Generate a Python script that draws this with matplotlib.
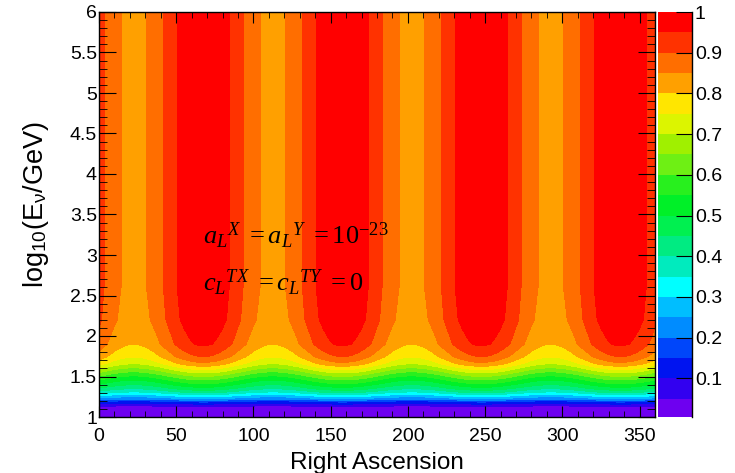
import numpy as np
import matplotlib
matplotlib.use("Agg")
import matplotlib.pyplot as plt
from matplotlib.ticker import MultipleLocator, FuncFormatter

# energy profile (value at the RA where the pattern peaks)
LOG_E = [1.00, 1.10, 1.14, 1.17, 1.20, 1.22, 1.25, 1.28, 1.31, 1.35, 1.40,
         1.457, 1.51, 1.56, 1.61, 1.66, 1.745, 1.898, 2.2, 2.6, 6.0]
PROFILE = [0.01, 0.035, 0.06, 0.12, 0.18, 0.24, 0.30, 0.36, 0.42, 0.48, 0.54,
           0.60, 0.66, 0.72, 0.78, 0.84, 0.90, 0.956, 0.99, 1.0, 1.0]
# sidereal modulation: depth, RA of maximum, period (deg)
MOD_DEPTH = 0.163
RA_PEAK = 67.5
RA_PERIOD = 90.0

LEVELS = [round(0.05 * k, 2) for k in range(21)]
COLORS = ["#6e00f0", "#3200f0", "#0014f0", "#0046fa", "#008cff", "#00beff",
          "#00ffff", "#00ebbe", "#00eb82", "#00f050", "#00f028", "#28f01e",
          "#6ef014", "#a0f000", "#dcf500", "#ffe600", "#ffa000", "#ff6e00",
          "#ff3200", "#ff0000"]
XTICKS = [0, 50, 100, 150, 200, 250, 300, 350]
CB_TICKS = [0.1, 0.2, 0.3, 0.4, 0.5, 0.6, 0.7, 0.8, 0.9, 1.0]

plt.rcParams["font.family"] = ["Liberation Sans", "DejaVu Sans"]
plt.rcParams["mathtext.fontset"] = "custom"
plt.rcParams["mathtext.rm"] = "Liberation Serif"
plt.rcParams["mathtext.it"] = "Liberation Serif:italic"
plt.rcParams["mathtext.sf"] = "Liberation Sans"

W, H = 735, 473
fig = plt.figure(figsize=(W / 100, H / 100), dpi=100, facecolor="white")
ax = fig.add_axes([99 / W, 1 - 417 / H, 556 / W, 405 / H])
cax = fig.add_axes([658 / W, 1 - 417 / H, 34 / W, 405 / H])

ra = np.linspace(0, 360, 721)
le = np.linspace(1, 6, 601)
RA, LE = np.meshgrid(ra, le)
prof = np.interp(le, LOG_E, PROFILE)[:, None]
phase = np.deg2rad(180.0 * (RA - RA_PEAK) / RA_PERIOD)
Z = np.clip(prof * (1 - MOD_DEPTH * np.sin(phase) ** 2), 0, 1)

ax.contourf(RA, LE, Z, levels=LEVELS, colors=COLORS)
ax.set_xlim(0, 360)
ax.set_ylim(1, 6)
ax.set_xticks(XTICKS)
ax.xaxis.set_minor_locator(MultipleLocator(10))
ax.yaxis.set_major_locator(MultipleLocator(0.5))
ax.yaxis.set_minor_locator(MultipleLocator(0.1))
ax.yaxis.set_major_formatter(FuncFormatter(lambda v, p: f"{v:g}"))
ax.tick_params(axis="both", which="both", direction="in", top=True, right=True,
               labelsize=14, colors="black")
ax.tick_params(axis="x", which="major", length=7.9, pad=8)
ax.tick_params(axis="x", which="minor", length=4)
ax.tick_params(axis="y", which="major", length=12.2, pad=1.5)
ax.tick_params(axis="y", which="minor", length=6.1)
for s in ax.spines.values():
    s.set_linewidth(1.0)

ax.text(67.5, 3.13, r"$a_{L}{}^{X}\ = a_{L}{}^{Y}\ = 10^{-23}$", fontsize=19,
        va="baseline", ha="left")
ax.text(67.5, 2.55, r"$c_{L}{}^{TX}\ = c_{L}{}^{TY}\ = 0$", fontsize=19,
        va="baseline", ha="left")

fig.text(377 / W, 4 / H, "Right Ascension", fontsize=17.5, ha="center", va="baseline")
fig.text(36 / W, 1 - 205 / H, r"log$_{\mathsf{10}}$(E$_{\mathsf{\nu}}$/GeV)", fontsize=19.5,
         rotation=90, ha="center", va="center")

# colour scale
for i, c in enumerate(COLORS):
    cax.axhspan(LEVELS[i], LEVELS[i + 1], color=c, lw=0)
cax.set_ylim(0.005, 1)
cax.set_xlim(0, 1)
cax.set_xticks([])
cax.set_yticks(CB_TICKS)
cax.yaxis.set_major_formatter(FuncFormatter(lambda v, p: f"{v:g}"))
cax.yaxis.tick_right()
cax.tick_params(axis="y", direction="in", length=11.5, pad=2, labelsize=14)
for side in ("left", "top", "bottom"):
    cax.spines[side].set_visible(False)
cax.spines["right"].set_linewidth(1.0)

fig.savefig("out.png", dpi=100, facecolor="white")
